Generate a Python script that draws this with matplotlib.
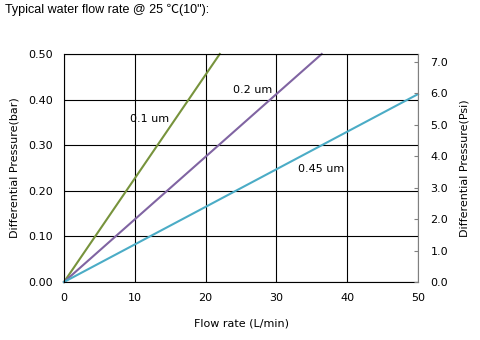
import matplotlib.pyplot as plt

# flow rate (L/min) vs differential pressure (bar)
flow_01 = [0, 22.0]
dp_01 = [0, 0.50]
flow_02 = [0, 36.4]
dp_02 = [0, 0.50]
flow_045 = [0, 50]
dp_045 = [0, 0.412]

x_ticks = [0, 10, 20, 30, 40, 50]
bar_ticks = [0.0, 0.1, 0.2, 0.3, 0.4, 0.5]
psi_ticks = [0, 1, 2, 3, 4, 5, 6, 7]

fs = 8

fig = plt.figure(figsize=(4.8, 3.4), dpi=100)
ax = fig.add_axes([64 / 480, 1 - 282 / 340, (418 - 64) / 480, (282 - 54) / 340])

ax.plot(flow_01, dp_01, color="#77933C", lw=1.5, clip_on=False)
ax.plot(flow_02, dp_02, color="#8064A2", lw=1.5, clip_on=False)
ax.plot(flow_045, dp_045, color="#4BACC6", lw=1.5, clip_on=False)

ax.text(12.1, 0.357, "0.1 um", fontsize=fs, ha="center", va="center")
ax.text(26.6, 0.421, "0.2 um", fontsize=fs, ha="center", va="center")
ax.text(36.3, 0.248, "0.45 um", fontsize=fs, ha="center", va="center")

ax.set_xlim(0, 50)
ax.set_ylim(0, 0.5)
ax.set_xticks(x_ticks)
ax.set_yticks(bar_ticks)
ax.set_yticklabels(["%.2f" % v for v in bar_ticks])
ax.grid(True, color="black", lw=0.8)
ax.tick_params(length=0, labelsize=fs, pad=8)
for s in ["left", "bottom", "top"]:
    ax.spines[s].set_color("black")
    ax.spines[s].set_linewidth(0.8)
ax.spines["right"].set_visible(False)
ax.set_xlabel("Flow rate (L/min)", fontsize=fs, labelpad=11)
ax.set_ylabel("Differential Pressure(bar)", fontsize=fs, labelpad=6)

ax2 = ax.twinx()
ax2.set_ylim(0, 7.25)
ax2.set_yticks(psi_ticks)
ax2.set_yticklabels(["%.1f" % v for v in psi_ticks])
ax2.tick_params(direction="in", length=3, color="gray", labelsize=fs, pad=9)
for s in ["left", "bottom", "top"]:
    ax2.spines[s].set_visible(False)
ax2.spines["right"].set_color("gray")
ax2.set_ylabel("Differential Pressure(Psi)", fontsize=fs, labelpad=8)

fig.text(5 / 480, 1 - 10 / 340, "Typical water flow rate @ 25 \u2103(10\"):",
         fontsize=9, family=["Liberation Sans", "Noto Sans CJK SC", "DejaVu Sans"],
         va="center", ha="left")

fig.savefig("out.png", dpi=100)
